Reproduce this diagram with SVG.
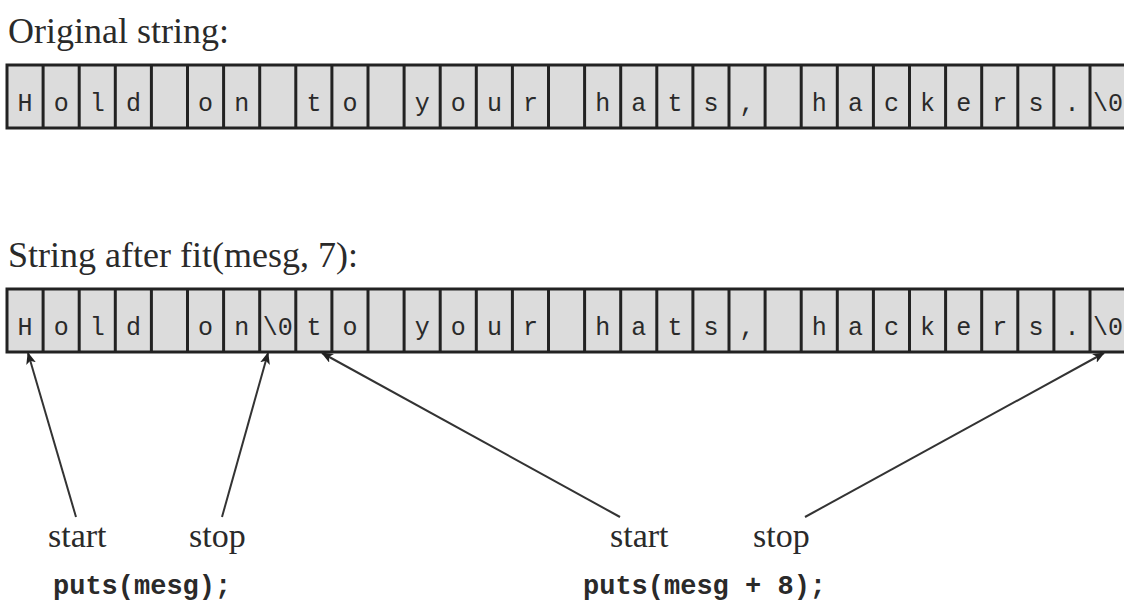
<svg xmlns="http://www.w3.org/2000/svg" width="1124" height="604" viewBox="0 0 1124 604">
<style>
.bg{fill:#ffffff}
.lbl{font-family:"Liberation Serif","Times New Roman",serif;font-size:36px;fill:#2a2a2a}
.ss{font-family:"Liberation Serif","Times New Roman",serif;font-size:34px;fill:#2a2a2a}
.code{font-family:"Liberation Mono","Courier New",monospace;font-size:27px;font-weight:bold;fill:#2a2a2a}
.cellr{fill:#dcdcdc;stroke:#222;stroke-width:3}
.ch{font-family:"Liberation Mono","Courier New",monospace;font-size:25px;fill:#2a2a2a;text-anchor:middle}
.conn{stroke:#333;stroke-width:2;fill:none;marker-end:url(#ah)}
</style>
<defs>
<marker id="ah" viewBox="0 0 12 10" refX="11" refY="5" markerWidth="12" markerHeight="10" markerUnits="userSpaceOnUse" orient="auto">
<path d="M0,0 L12,5 L0,10 L3,5 Z" fill="#222"/>
</marker>
</defs>
<rect class="bg" x="0" y="0" width="1124" height="604"/>
<text class="lbl" x="8" y="43">Original string:</text>
<g id="row1">
<rect class="cellr" x="7" y="65" width="1119" height="63"/>
<path d="M43.1,65V128M79.2,65V128M115.3,65V128M151.4,65V128M187.5,65V128M223.6,65V128M259.7,65V128M295.8,65V128M331.9,65V128M368,65V128M404.1,65V128M440.2,65V128M476.3,65V128M512.4,65V128M548.5,65V128M584.6,65V128M620.7,65V128M656.8,65V128M692.9,65V128M729,65V128M765.1,65V128M801.2,65V128M837.3,65V128M873.4,65V128M909.5,65V128M945.6,65V128M981.7,65V128M1017.8,65V128M1053.9,65V128M1090,65V128" stroke="#222" stroke-width="3"/>
<text class="ch" y="111"><tspan x="25.1">H</tspan><tspan x="61.2">o</tspan><tspan x="97.3">l</tspan><tspan x="133.4">d</tspan><tspan x="205.6">o</tspan><tspan x="241.7">n</tspan><tspan x="313.9">t</tspan><tspan x="350">o</tspan><tspan x="422.2">y</tspan><tspan x="458.3">o</tspan><tspan x="494.4">u</tspan><tspan x="530.5">r</tspan><tspan x="602.7">h</tspan><tspan x="638.8">a</tspan><tspan x="674.9">t</tspan><tspan x="711">s</tspan><tspan x="747.1">,</tspan><tspan x="819.3">h</tspan><tspan x="855.4">a</tspan><tspan x="891.5">c</tspan><tspan x="927.6">k</tspan><tspan x="963.7">e</tspan><tspan x="999.8">r</tspan><tspan x="1035.9">s</tspan><tspan x="1072">.</tspan><tspan x="1108.1">\0</tspan></text>
</g>
<text class="lbl" x="8" y="267">String after fit(mesg, 7):</text>
<g id="row2">
<rect class="cellr" x="7" y="289" width="1119" height="63"/>
<path d="M43.1,289V352M79.2,289V352M115.3,289V352M151.4,289V352M187.5,289V352M223.6,289V352M259.7,289V352M295.8,289V352M331.9,289V352M368,289V352M404.1,289V352M440.2,289V352M476.3,289V352M512.4,289V352M548.5,289V352M584.6,289V352M620.7,289V352M656.8,289V352M692.9,289V352M729,289V352M765.1,289V352M801.2,289V352M837.3,289V352M873.4,289V352M909.5,289V352M945.6,289V352M981.7,289V352M1017.8,289V352M1053.9,289V352M1090,289V352" stroke="#222" stroke-width="3"/>
<text class="ch" y="335"><tspan x="25.1">H</tspan><tspan x="61.2">o</tspan><tspan x="97.3">l</tspan><tspan x="133.4">d</tspan><tspan x="205.6">o</tspan><tspan x="241.7">n</tspan><tspan x="277.8">\0</tspan><tspan x="313.9">t</tspan><tspan x="350">o</tspan><tspan x="422.2">y</tspan><tspan x="458.3">o</tspan><tspan x="494.4">u</tspan><tspan x="530.5">r</tspan><tspan x="602.7">h</tspan><tspan x="638.8">a</tspan><tspan x="674.9">t</tspan><tspan x="711">s</tspan><tspan x="747.1">,</tspan><tspan x="819.3">h</tspan><tspan x="855.4">a</tspan><tspan x="891.5">c</tspan><tspan x="927.6">k</tspan><tspan x="963.7">e</tspan><tspan x="999.8">r</tspan><tspan x="1035.9">s</tspan><tspan x="1072">.</tspan><tspan x="1108.1">\0</tspan></text>
</g>
<g id="connectors">
<line class="conn" x1="76" y1="517" x2="28" y2="353"/>
<line class="conn" x1="222" y1="517" x2="268" y2="353"/>
<line class="conn" x1="620" y1="517" x2="322" y2="353"/>
<line class="conn" x1="805" y1="517" x2="1104" y2="353"/>
</g>
<g id="label-start1"><text class="ss" x="48" y="547">start</text></g>
<g id="label-stop1"><text class="ss" x="189" y="547">stop</text></g>
<g id="label-code1"><text class="code" x="53" y="594">puts(mesg);</text></g>
<g id="label-start2"><text class="ss" x="610" y="547">start</text></g>
<g id="label-stop2"><text class="ss" x="753" y="547">stop</text></g>
<g id="label-code2"><text class="code" x="583" y="594">puts(mesg + 8);</text></g>
</svg>
